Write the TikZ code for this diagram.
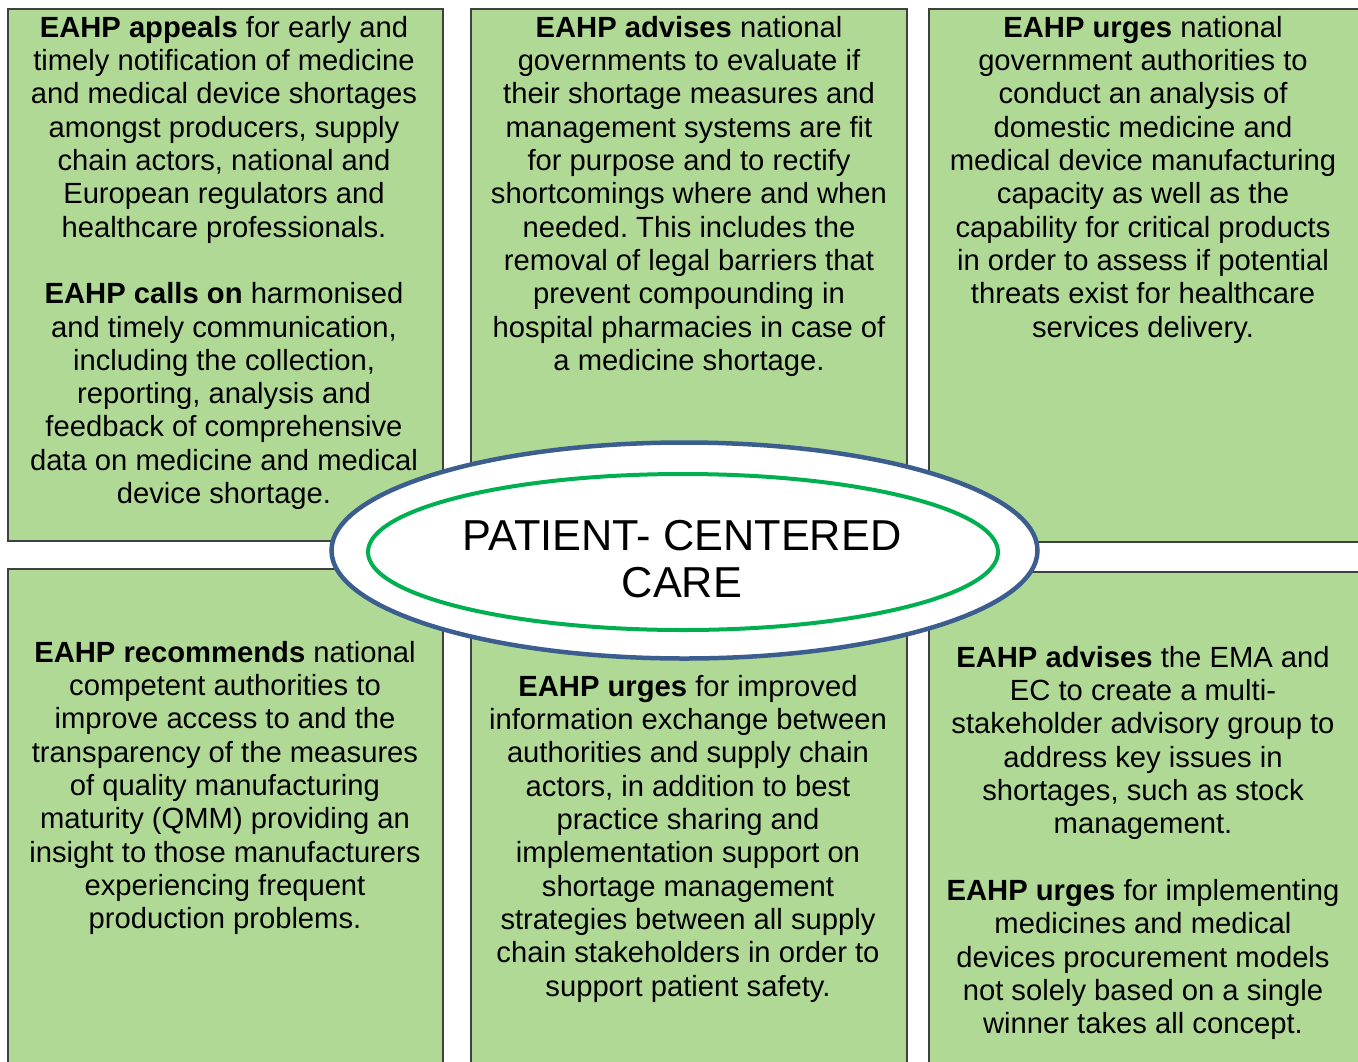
\documentclass[tikz,border=0pt]{standalone}
\usepackage{fontspec}
\setmainfont{Liberation Sans}
\usetikzlibrary{shapes.geometric}
\definecolor{panelfill}{HTML}{B1D996}
\definecolor{panelline}{HTML}{404040}
\definecolor{ringblue}{HTML}{3B5E8F}
\definecolor{ringgreen}{HTML}{00B050}
\frenchspacing
\begin{document}
\begin{tikzpicture}[x=1pt,y=-1pt,
  panel/.style={fill=panelfill,draw=panelline,line width=1.5pt},
  paneltext/.style={anchor=north,inner sep=0pt,align=center,
    font=\fontsize{29.2}{33.3}\selectfont},
  outerring/.style={ellipse,draw=ringblue,fill=white,line width=4.5pt,
    minimum width=706pt,minimum height=216pt,inner sep=0pt},
  innerring/.style={ellipse,draw=ringgreen,fill=white,line width=4pt,
    minimum width=630pt,minimum height=156pt,inner sep=0pt},
  caretext/.style={inner sep=0pt,align=center,
    font=\fontsize{43.3}{47}\selectfont}]
\useasboundingbox (0,0) rectangle (1358,1061);
\clip (0,0) rectangle (1358,1061);

% six recommendation panels
\draw[panel] (8,9) rectangle (443,541);
\draw[panel] (471,9) rectangle (907,541);
\draw[panel] (929,9) rectangle (1370,542);
\draw[panel] (8,569) rectangle (443,1075);
\draw[panel] (471,569) rectangle (907,1075);
\draw[panel] (929,572) rectangle (1370,1075);

\node[paneltext] (tl) at (224,16) {\textbf{EAHP appeals} for early and\\
timely notification of medicine\\
and medical device shortages\\
amongst producers, supply\\
chain actors, national and\\
European regulators and\\
healthcare professionals.\\[33.3pt]
\textbf{EAHP calls on} harmonised\\
and timely communication,\\
including the collection,\\
reporting, analysis and\\
feedback of comprehensive\\
data on medicine and medical\\
device shortage.};

\node[paneltext] (tm) at (689,16) {\textbf{EAHP advises} national\\
governments to evaluate if\\
their shortage measures and\\
management systems are fit\\
for purpose and to rectify\\
shortcomings where and when\\
needed. This includes the\\
removal of legal barriers that\\
prevent compounding in\\
hospital pharmacies in case of\\
a medicine shortage.};

\node[paneltext] (tr) at (1143,16) {\textbf{EAHP urges} national\\
government authorities to\\
conduct an analysis of\\
domestic medicine and\\
medical device manufacturing\\
capacity as well as the\\
capability for critical products\\
in order to assess if potential\\
threats exist for healthcare\\
services delivery.};

\node[paneltext] (bl) at (225,641) {\textbf{EAHP recommends} national\\
competent authorities to\\
improve access to and the\\
transparency of the measures\\
of quality manufacturing\\
maturity (QMM) providing an\\
insight to those manufacturers\\
experiencing frequent\\
production problems.};

\node[paneltext] (bm) at (688,675) {\textbf{EAHP urges} for improved\\
information exchange between\\
authorities and supply chain\\
actors, in addition to best\\
practice sharing and\\
implementation support on\\
shortage management\\
strategies between all supply\\
chain stakeholders in order to\\
support patient safety.};

\node[paneltext] (br) at (1143,646) {\textbf{EAHP advises} the EMA and\\
EC to create a multi-\\
stakeholder advisory group to\\
address key issues in\\
shortages, such as stock\\
management.\\[33.3pt]
\textbf{EAHP urges} for implementing\\
medicines and medical\\
devices procurement models\\
not solely based on a single\\
winner takes all concept.};

% central patient-centred care ellipses
\node[outerring] (ring) at (684.5,550.5) {};
\node[innerring] (core) at (683,552) {};
\node[caretext] (care) at (682,559) {PATIENT- CENTERED\\CARE};
\end{tikzpicture}
\end{document}
